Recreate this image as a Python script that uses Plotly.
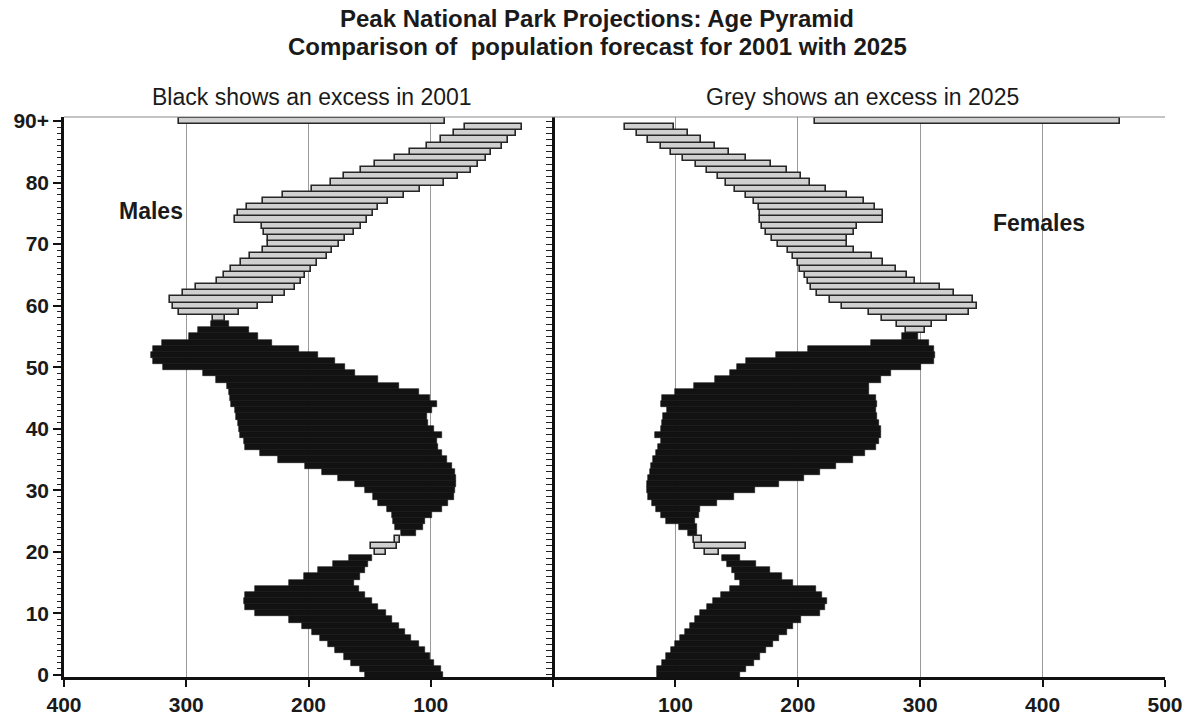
import plotly.graph_objects as go

# Single-year ages 0..90 (90 = "90+")
ages = list(range(91))
age_tick_vals = [0, 10, 20, 30, 40, 50, 60, 70, 80, 90]
age_tick_text = ["0", "10", "20", "30", "40", "50", "60", "70", "80", "90+"]

males_2001 = [
    154, 158, 165, 171, 178, 184, 191, 197, 205, 216,
    244, 252, 253, 252, 244, 216, 204, 192, 180, 167,
    137, 128, 125, 124, 129, 131, 132, 136, 143, 147,
    154, 162, 176, 189, 203, 225, 240, 252, 253, 256,
    257, 258, 259, 260, 263, 264, 265, 267, 276, 286,
    319, 327, 329, 327, 320, 298, 290, 280, 268, 257,
    241, 229, 219, 211, 206, 203, 198, 193, 185, 181,
    175, 170, 163, 157, 152, 147, 143, 135, 122, 109,
    89, 78, 67, 61, 55, 51, 42, 37, 30, 25,
    88,
]
males_2025 = [
    90, 92, 97, 101, 105, 110, 116, 121, 126, 132,
    137, 143, 148, 154, 159, 163, 158, 154, 151, 148,
    146, 149, 129, 112, 106, 105, 99, 91, 86, 81,
    80, 79, 79, 80, 83, 87, 91, 94, 95, 91,
    97, 102, 103, 99, 95, 101, 110, 126, 143, 162,
    170, 178, 192, 208, 230, 241, 249, 265, 278, 306,
    311, 313, 303, 292, 275, 269, 263, 255, 248, 237,
    233, 233, 236, 238, 260, 258, 250, 237, 221, 197,
    182, 171, 157, 146, 129, 117, 103, 92, 81, 72,
    306,
]
females_2001 = [
    153, 158, 164, 169, 174, 180, 185, 191, 196, 203,
    218, 222, 224, 220, 215, 196, 187, 177, 166, 153,
    124, 116, 115, 118, 118, 116, 119, 120, 134, 148,
    165, 185, 205, 218, 231, 245, 255, 264, 266, 268,
    268, 266, 265, 264, 265, 264, 258, 258, 268, 276,
    301, 311, 312, 311, 307, 298, 288, 281, 269, 258,
    236, 226, 216, 211, 208, 206, 202, 200, 196, 192,
    184, 179, 174, 171, 169, 169, 168, 164, 158, 149,
    141, 135, 126, 117, 106, 96, 88, 78, 69, 59,
    214,
]
females_2025 = [
    85, 85, 89, 92, 96, 100, 104, 108, 112, 116,
    120, 126, 131, 137, 145, 153, 149, 146, 142, 138,
    136, 158, 122, 110, 103, 92, 88, 84, 81, 78,
    77, 77, 78, 79, 80, 82, 84, 86, 88, 83,
    88, 89, 90, 93, 88, 89, 100, 115, 132, 145,
    150, 158, 182, 208, 260, 285, 304, 310, 322, 340,
    346, 343, 328, 316, 296, 289, 280, 270, 261, 246,
    240, 240, 246, 248, 270, 270, 263, 254, 240, 223,
    210, 203, 191, 178, 158, 144, 132, 121, 110, 99,
    463,
]

W, H = 1195, 720
FONT = "Liberation Sans, Arial, sans-serif"
BLACK = "#121212"
GREY_FILL = "#d0d0d0"
GREY_EDGE = "#262626"


def px_x(p):
    return p / W


def px_y(p):
    return 1 - p / H


def diff_traces(v2001, v2025, xaxis):
    """Floating bars between the two years, black where 2001 is larger."""
    out = []
    for excess_2001 in (True, False):
        ys, base, length = [], [], []
        for a, a1, a2 in zip(ages, v2001, v2025):
            if (a1 > a2) == excess_2001:
                ys.append(a)
                base.append(min(a1, a2))
                length.append(abs(a1 - a2))
        if excess_2001:
            marker = dict(color=BLACK, line=dict(color=BLACK, width=0.6))
        else:
            marker = dict(color=GREY_FILL, line=dict(color=GREY_EDGE, width=1.6))
        out.append(go.Bar(
            y=ys, x=length, base=base, orientation="h", width=1.0,
            marker=marker, xaxis=xaxis, yaxis="y", showlegend=False,
            hoverinfo="skip",
        ))
    return out


traces = diff_traces(males_2001, males_2025, "x") + diff_traces(females_2001, females_2025, "x2")
# carrier for the tick column on the centre line
traces.append(go.Scatter(x=[0, 0], y=[ages[0], ages[-1]], xaxis="x", yaxis="y2",
                         mode="lines", line=dict(width=0), opacity=0,
                         showlegend=False, hoverinfo="skip"))

fig = go.Figure(traces)

left_dom = [px_x(64), px_x(553)]
right_dom = [px_x(553), px_x(1165)]
y_dom = [px_y(677), px_y(117)]
y_range = [-0.33, 90.65]

tickfont = dict(family=FONT, size=21, color="#1a1a1a")

fig.update_layout(
    width=W, height=H,
    margin=dict(l=0, r=0, t=0, b=0),
    paper_bgcolor="white", plot_bgcolor="rgba(0,0,0,0)",
    barmode="overlay", bargap=0,
    xaxis=dict(
        domain=left_dom, range=[400, 0], anchor="y", automargin=False,
        tickmode="array", tickvals=[400, 300, 200, 100, 0],
        ticktext=["<b>400</b>", "<b>300</b>", "<b>200</b>", "<b>100</b>", ""],
        ticks="outside", ticklen=7, tickwidth=2, tickcolor="#111",
        showline=True, linewidth=2.5, linecolor="#111",
        showgrid=True, gridcolor="#9a9a9a", gridwidth=1.3, zeroline=False,
        tickfont=tickfont,
    ),
    xaxis2=dict(
        domain=right_dom, range=[0, 500], anchor="y", automargin=False,
        tickmode="array", tickvals=[0, 100, 200, 300, 400, 500],
        ticktext=["", "<b>100</b>", "<b>200</b>", "<b>300</b>", "<b>400</b>", "<b>500</b>"],
        ticks="outside", ticklen=7, tickwidth=2, tickcolor="#111",
        showline=True, linewidth=2.5, linecolor="#111",
        showgrid=True, gridcolor="#9a9a9a", gridwidth=1.3, zeroline=False,
        tickfont=tickfont,
    ),
    yaxis=dict(
        domain=y_dom, range=y_range, anchor="x", automargin=False,
        tickmode="array", tickvals=age_tick_vals,
        ticktext=["<b>%s</b>" % t for t in age_tick_text],
        ticks="outside", ticklen=8, tickwidth=2, tickcolor="#111",
        minor=dict(dtick=1, tick0=0, ticks="outside", ticklen=4,
                   tickwidth=1.2, tickcolor="#222", showgrid=False),
        showline=True, linewidth=2.5, linecolor="#111",
        showgrid=False, zeroline=False, tickfont=tickfont,
    ),
    yaxis2=dict(
        overlaying="y", anchor="free", position=px_x(553), side="left",
        automargin=False,
        range=y_range, tickmode="linear", tick0=0, dtick=1,
        ticks="outside", ticklen=6, tickwidth=1.2, tickcolor="#222",
        showticklabels=False, showline=True, linewidth=2.5, linecolor="#111",
        showgrid=False, zeroline=False,
    ),
    shapes=[
        dict(type="line", xref="paper", yref="paper",
             x0=px_x(64), x1=px_x(1165), y0=px_y(117), y1=px_y(117),
             line=dict(color="#8a8a8a", width=1.2)),
    ],
)

annotations = [
    ("<b>Peak National Park Projections: Age Pyramid</b>", 597, 18, 24),
    ("<b>Comparison of  population forecast for 2001 with 2025</b>", 597, 47, 24),
    ("Black shows an excess in 2001", 312, 97, 23),
    ("Grey shows an excess in 2025", 862, 97, 23),
    ("<b>Males</b>", 151, 211, 23),
    ("<b>Females</b>", 1039, 223, 23),
]
for text, x, y, size in annotations:
    fig.add_annotation(text=text, x=px_x(x), y=px_y(y), xref="paper", yref="paper",
                       xanchor="center", yanchor="middle", showarrow=False,
                       font=dict(family=FONT, size=size, color="#1a1a1a"))

fig.write_html("out.html")
